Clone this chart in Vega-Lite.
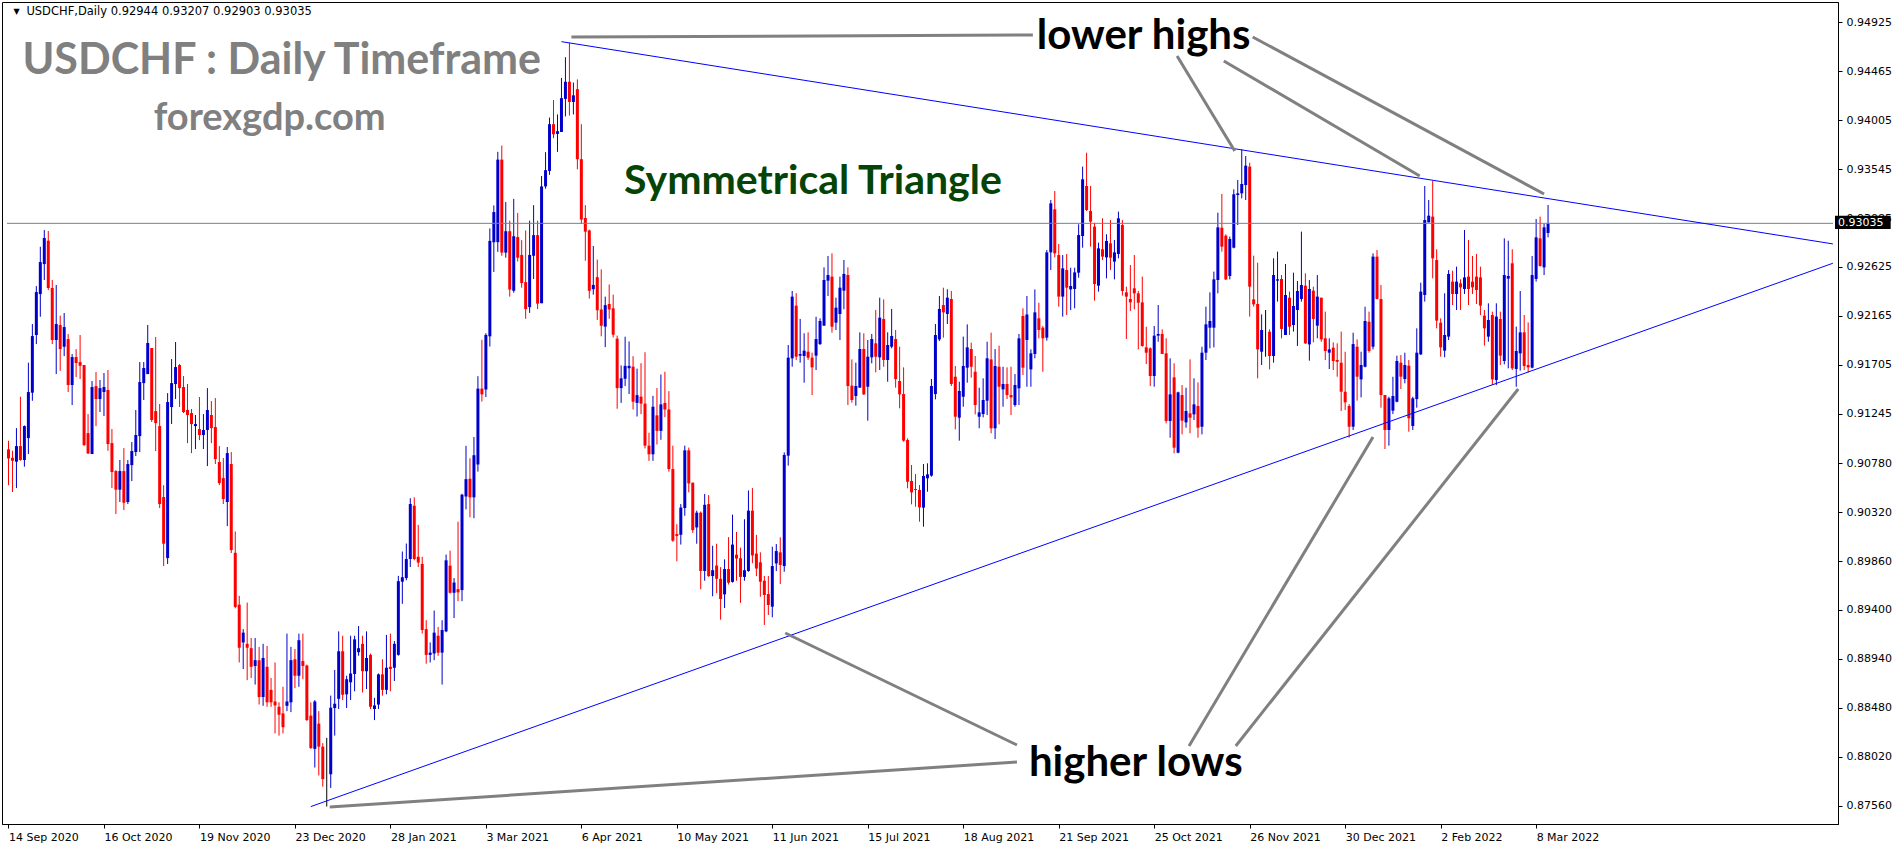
{
  "$schema": "https://vega.github.io/schema/vega-lite/v6.json",
  "width": 1836,
  "height": 822,
  "autosize": {"type": "none"},
  "padding": {"left": 2, "top": 2, "right": 64, "bottom": 24},
  "background": "white",
  "view": {"stroke": "black", "strokeWidth": 1},
  "config": {"font": "DejaVu Sans"},
  "datasets": {
    "candles": [
      {"i":0,"o":0.90910,"h":0.90991,"l":0.90574,"c":0.90825},
      {"i":1,"o":0.90831,"h":0.90897,"l":0.90509,"c":0.90803},
      {"i":2,"o":0.90794,"h":0.91110,"l":0.90546,"c":0.90941},
      {"i":3,"o":0.90941,"h":0.91405,"l":0.90803,"c":0.90810},
      {"i":4,"o":0.90810,"h":0.91135,"l":0.90747,"c":0.91129},
      {"i":5,"o":0.91016,"h":0.91725,"l":0.90866,"c":0.91449},
      {"i":6,"o":0.91443,"h":0.92088,"l":0.91367,"c":0.91975},
      {"i":7,"o":0.91985,"h":0.92445,"l":0.91900,"c":0.92389},
      {"i":8,"o":0.92370,"h":0.92815,"l":0.92157,"c":0.92671},
      {"i":9,"o":0.92652,"h":0.92972,"l":0.92502,"c":0.92897},
      {"i":10,"o":0.92872,"h":0.92963,"l":0.92408,"c":0.92427},
      {"i":11,"o":0.92427,"h":0.92502,"l":0.91900,"c":0.91938},
      {"i":12,"o":0.91938,"h":0.92455,"l":0.91618,"c":0.92088},
      {"i":13,"o":0.92079,"h":0.92167,"l":0.91649,"c":0.91853},
      {"i":14,"o":0.91875,"h":0.92192,"l":0.91787,"c":0.92060},
      {"i":15,"o":0.91947,"h":0.91994,"l":0.91449,"c":0.91515},
      {"i":16,"o":0.91515,"h":0.91806,"l":0.91327,"c":0.91778},
      {"i":17,"o":0.91778,"h":0.91853,"l":0.91590,"c":0.91722},
      {"i":18,"o":0.91731,"h":0.91985,"l":0.91571,"c":0.91696},
      {"i":19,"o":0.91703,"h":0.91703,"l":0.90941,"c":0.90951},
      {"i":20,"o":0.91063,"h":0.91242,"l":0.90866,"c":0.90872},
      {"i":21,"o":0.90866,"h":0.91552,"l":0.90866,"c":0.91496},
      {"i":22,"o":0.91505,"h":0.91637,"l":0.91129,"c":0.91383},
      {"i":23,"o":0.91383,"h":0.91562,"l":0.91261,"c":0.91486},
      {"i":24,"o":0.91449,"h":0.91628,"l":0.91223,"c":0.91496},
      {"i":25,"o":0.91468,"h":0.91656,"l":0.90897,"c":0.90960},
      {"i":26,"o":0.90969,"h":0.91101,"l":0.90546,"c":0.90697},
      {"i":27,"o":0.90706,"h":0.90715,"l":0.90302,"c":0.90531},
      {"i":28,"o":0.90531,"h":0.90810,"l":0.90415,"c":0.90706},
      {"i":29,"o":0.90706,"h":0.90922,"l":0.90339,"c":0.90408},
      {"i":30,"o":0.90415,"h":0.90810,"l":0.90396,"c":0.90772},
      {"i":31,"o":0.90762,"h":0.90979,"l":0.90612,"c":0.90894},
      {"i":32,"o":0.90885,"h":0.91280,"l":0.90847,"c":0.91045},
      {"i":33,"o":0.91035,"h":0.91731,"l":0.90885,"c":0.91543},
      {"i":34,"o":0.91533,"h":0.91731,"l":0.91374,"c":0.91675},
      {"i":35,"o":0.91618,"h":0.92079,"l":0.91618,"c":0.91910},
      {"i":36,"o":0.91863,"h":0.91863,"l":0.91167,"c":0.91186},
      {"i":37,"o":0.91270,"h":0.91966,"l":0.90894,"c":0.91157},
      {"i":38,"o":0.91129,"h":0.91336,"l":0.90358,"c":0.90396},
      {"i":39,"o":0.90462,"h":0.90574,"l":0.89813,"c":0.90023},
      {"i":40,"o":0.89888,"h":0.91439,"l":0.89832,"c":0.91355},
      {"i":41,"o":0.91308,"h":0.91759,"l":0.91148,"c":0.91533},
      {"i":42,"o":0.91524,"h":0.91919,"l":0.91383,"c":0.91684},
      {"i":43,"o":0.91703,"h":0.91712,"l":0.91308,"c":0.91486},
      {"i":44,"o":0.91496,"h":0.91599,"l":0.91251,"c":0.91261},
      {"i":45,"o":0.91280,"h":0.91524,"l":0.90969,"c":0.91233},
      {"i":46,"o":0.91251,"h":0.91289,"l":0.90875,"c":0.91148},
      {"i":47,"o":0.91129,"h":0.91233,"l":0.90913,"c":0.91148},
      {"i":48,"o":0.91101,"h":0.91402,"l":0.90997,"c":0.91045},
      {"i":49,"o":0.91045,"h":0.91242,"l":0.90913,"c":0.91092},
      {"i":50,"o":0.91092,"h":0.91486,"l":0.90753,"c":0.91280},
      {"i":51,"o":0.91233,"h":0.91364,"l":0.90969,"c":0.91110},
      {"i":52,"o":0.91120,"h":0.91392,"l":0.90772,"c":0.90819},
      {"i":53,"o":0.90791,"h":0.90941,"l":0.90574,"c":0.90593},
      {"i":54,"o":0.90640,"h":0.90828,"l":0.90396,"c":0.90443},
      {"i":55,"o":0.90415,"h":0.90932,"l":0.90189,"c":0.90875},
      {"i":56,"o":0.90772,"h":0.90885,"l":0.89935,"c":0.89963},
      {"i":57,"o":0.89938,"h":0.90138,"l":0.89416,"c":0.89429},
      {"i":58,"o":0.89450,"h":0.89533,"l":0.88907,"c":0.89045},
      {"i":59,"o":0.89095,"h":0.89220,"l":0.88845,"c":0.89187},
      {"i":60,"o":0.89082,"h":0.89470,"l":0.88740,"c":0.89045},
      {"i":61,"o":0.89041,"h":0.89137,"l":0.88761,"c":0.88866},
      {"i":62,"o":0.88874,"h":0.89137,"l":0.88699,"c":0.88928},
      {"i":63,"o":0.88928,"h":0.89053,"l":0.88511,"c":0.88582},
      {"i":64,"o":0.88582,"h":0.89082,"l":0.88499,"c":0.88949},
      {"i":65,"o":0.88866,"h":0.89062,"l":0.88490,"c":0.88532},
      {"i":66,"o":0.88649,"h":0.88761,"l":0.88490,"c":0.88532},
      {"i":67,"o":0.88540,"h":0.88907,"l":0.88240,"c":0.88503},
      {"i":68,"o":0.88490,"h":0.88532,"l":0.88219,"c":0.88415},
      {"i":69,"o":0.88428,"h":0.88678,"l":0.88240,"c":0.88298},
      {"i":70,"o":0.88499,"h":0.89178,"l":0.88449,"c":0.88540},
      {"i":71,"o":0.88532,"h":0.89053,"l":0.88440,"c":0.88928},
      {"i":72,"o":0.88937,"h":0.89033,"l":0.88665,"c":0.88782},
      {"i":73,"o":0.88782,"h":0.89178,"l":0.88678,"c":0.89116},
      {"i":74,"o":0.88920,"h":0.89178,"l":0.88749,"c":0.88874},
      {"i":75,"o":0.88878,"h":0.88887,"l":0.88357,"c":0.88365},
      {"i":76,"o":0.88407,"h":0.88532,"l":0.88094,"c":0.88102},
      {"i":77,"o":0.88094,"h":0.88553,"l":0.87919,"c":0.88540},
      {"i":78,"o":0.88332,"h":0.88449,"l":0.87844,"c":0.88115},
      {"i":79,"o":0.88115,"h":0.88148,"l":0.87739,"c":0.87810},
      {"i":80,"o":0.87815,"h":0.88198,"l":0.87552,"c":0.87815},
      {"i":81,"o":0.87856,"h":0.88595,"l":0.87727,"c":0.88482},
      {"i":82,"o":0.88478,"h":0.88836,"l":0.88219,"c":0.88519},
      {"i":83,"o":0.88565,"h":0.89199,"l":0.88469,"c":0.89012},
      {"i":84,"o":0.89012,"h":0.89158,"l":0.88553,"c":0.88603},
      {"i":85,"o":0.88607,"h":0.88782,"l":0.88478,"c":0.88749},
      {"i":86,"o":0.88720,"h":0.89158,"l":0.88553,"c":0.88803},
      {"i":87,"o":0.88799,"h":0.89158,"l":0.88636,"c":0.89124},
      {"i":88,"o":0.89003,"h":0.89249,"l":0.88970,"c":0.89041},
      {"i":89,"o":0.89082,"h":0.89158,"l":0.88624,"c":0.88824},
      {"i":90,"o":0.88824,"h":0.89199,"l":0.88657,"c":0.88949},
      {"i":91,"o":0.88978,"h":0.88991,"l":0.88469,"c":0.88490},
      {"i":92,"o":0.88469,"h":0.88574,"l":0.88365,"c":0.88503},
      {"i":93,"o":0.88511,"h":0.88803,"l":0.88469,"c":0.88795},
      {"i":94,"o":0.88795,"h":0.88937,"l":0.88595,"c":0.88649},
      {"i":95,"o":0.88649,"h":0.89166,"l":0.88607,"c":0.88857},
      {"i":96,"o":0.88866,"h":0.89178,"l":0.88636,"c":0.88845},
      {"i":97,"o":0.88857,"h":0.89108,"l":0.88732,"c":0.89082},
      {"i":98,"o":0.88978,"h":0.89721,"l":0.88970,"c":0.89671},
      {"i":99,"o":0.89666,"h":0.89950,"l":0.89458,"c":0.89708},
      {"i":100,"o":0.89700,"h":0.90025,"l":0.89679,"c":0.89879},
      {"i":101,"o":0.89879,"h":0.90451,"l":0.89804,"c":0.90396},
      {"i":102,"o":0.90380,"h":0.90459,"l":0.89867,"c":0.89879},
      {"i":103,"o":0.89900,"h":0.90200,"l":0.89804,"c":0.89846},
      {"i":104,"o":0.89833,"h":0.89900,"l":0.89178,"c":0.89212},
      {"i":105,"o":0.89220,"h":0.89304,"l":0.88895,"c":0.88978},
      {"i":106,"o":0.88978,"h":0.89095,"l":0.88907,"c":0.88999},
      {"i":107,"o":0.88991,"h":0.89395,"l":0.88928,"c":0.89187},
      {"i":108,"o":0.89158,"h":0.89241,"l":0.88970,"c":0.88999},
      {"i":109,"o":0.88999,"h":0.89304,"l":0.88699,"c":0.89212},
      {"i":110,"o":0.89199,"h":0.89921,"l":0.89191,"c":0.89867},
      {"i":111,"o":0.89817,"h":0.89958,"l":0.89554,"c":0.89562},
      {"i":112,"o":0.89562,"h":0.89700,"l":0.89324,"c":0.89658},
      {"i":113,"o":0.89596,"h":0.90230,"l":0.89483,"c":0.89566},
      {"i":114,"o":0.89587,"h":0.90492,"l":0.89483,"c":0.90484},
      {"i":115,"o":0.90467,"h":0.90943,"l":0.90346,"c":0.90630},
      {"i":116,"o":0.90634,"h":0.90826,"l":0.90271,"c":0.90459},
      {"i":117,"o":0.90459,"h":0.91026,"l":0.90263,"c":0.90855},
      {"i":118,"o":0.90768,"h":0.91598,"l":0.90701,"c":0.91481},
      {"i":119,"o":0.91481,"h":0.91940,"l":0.91360,"c":0.91427},
      {"i":120,"o":0.91473,"h":0.92002,"l":0.91402,"c":0.91986},
      {"i":121,"o":0.91973,"h":0.92987,"l":0.91877,"c":0.92870},
      {"i":122,"o":0.92857,"h":0.93203,"l":0.92578,"c":0.93141},
      {"i":123,"o":0.92858,"h":0.93707,"l":0.92767,"c":0.93634},
      {"i":124,"o":0.93634,"h":0.93766,"l":0.92730,"c":0.92760},
      {"i":125,"o":0.92760,"h":0.93235,"l":0.92712,"c":0.92961},
      {"i":126,"o":0.92961,"h":0.93060,"l":0.92346,"c":0.92412},
      {"i":127,"o":0.92401,"h":0.93265,"l":0.92383,"c":0.92913},
      {"i":128,"o":0.92906,"h":0.93133,"l":0.92676,"c":0.92712},
      {"i":129,"o":0.92738,"h":0.92877,"l":0.92430,"c":0.92474},
      {"i":130,"o":0.92482,"h":0.92968,"l":0.92138,"c":0.92229},
      {"i":131,"o":0.92247,"h":0.93060,"l":0.92193,"c":0.92738},
      {"i":132,"o":0.92730,"h":0.93206,"l":0.92511,"c":0.92924},
      {"i":133,"o":0.92924,"h":0.93060,"l":0.92229,"c":0.92280},
      {"i":134,"o":0.92284,"h":0.93480,"l":0.92284,"c":0.93382},
      {"i":135,"o":0.93382,"h":0.93704,"l":0.93360,"c":0.93535},
      {"i":136,"o":0.93528,"h":0.94029,"l":0.93491,"c":0.93967},
      {"i":137,"o":0.93967,"h":0.94194,"l":0.93835,"c":0.93872},
      {"i":138,"o":0.93876,"h":0.94059,"l":0.93707,"c":0.93901},
      {"i":139,"o":0.93894,"h":0.94402,"l":0.93894,"c":0.94212},
      {"i":140,"o":0.94205,"h":0.94597,"l":0.94040,"c":0.94366},
      {"i":141,"o":0.94366,"h":0.94732,"l":0.94048,"c":0.94176},
      {"i":142,"o":0.94176,"h":0.94359,"l":0.94059,"c":0.94238},
      {"i":143,"o":0.94296,"h":0.94388,"l":0.93543,"c":0.93638},
      {"i":144,"o":0.93638,"h":0.93967,"l":0.93030,"c":0.93071},
      {"i":145,"o":0.93085,"h":0.93206,"l":0.92683,"c":0.92957},
      {"i":146,"o":0.92968,"h":0.92976,"l":0.92328,"c":0.92401},
      {"i":147,"o":0.92416,"h":0.92822,"l":0.92365,"c":0.92456},
      {"i":148,"o":0.92529,"h":0.92694,"l":0.92127,"c":0.92218},
      {"i":149,"o":0.92225,"h":0.92602,"l":0.91973,"c":0.92072},
      {"i":150,"o":0.92064,"h":0.92346,"l":0.91871,"c":0.92266},
      {"i":151,"o":0.92277,"h":0.92460,"l":0.92138,"c":0.92225},
      {"i":152,"o":0.92236,"h":0.92365,"l":0.91962,"c":0.91988},
      {"i":153,"o":0.91951,"h":0.91980,"l":0.91292,"c":0.91486},
      {"i":154,"o":0.91486,"h":0.91699,"l":0.91347,"c":0.91578},
      {"i":155,"o":0.91574,"h":0.91969,"l":0.91505,"c":0.91695},
      {"i":156,"o":0.91673,"h":0.91925,"l":0.91431,"c":0.91695},
      {"i":157,"o":0.91688,"h":0.91786,"l":0.91285,"c":0.91358},
      {"i":158,"o":0.91347,"h":0.91669,"l":0.91219,"c":0.91420},
      {"i":159,"o":0.91406,"h":0.91720,"l":0.91241,"c":0.91340},
      {"i":160,"o":0.91340,"h":0.91823,"l":0.90919,"c":0.90945},
      {"i":161,"o":0.90945,"h":0.91066,"l":0.90802,"c":0.90864},
      {"i":162,"o":0.90864,"h":0.91413,"l":0.90802,"c":0.91311},
      {"i":163,"o":0.91230,"h":0.91486,"l":0.90956,"c":0.91084},
      {"i":164,"o":0.91084,"h":0.91614,"l":0.91000,"c":0.91333},
      {"i":165,"o":0.91347,"h":0.91640,"l":0.91212,"c":0.91285},
      {"i":166,"o":0.91285,"h":0.91457,"l":0.90700,"c":0.90725},
      {"i":167,"o":0.90725,"h":0.90945,"l":0.90041,"c":0.90052},
      {"i":168,"o":0.90114,"h":0.90206,"l":0.89858,"c":0.90096},
      {"i":169,"o":0.90107,"h":0.90396,"l":0.90015,"c":0.90363},
      {"i":170,"o":0.90359,"h":0.90945,"l":0.90286,"c":0.90901},
      {"i":171,"o":0.90901,"h":0.90927,"l":0.90506,"c":0.90590},
      {"i":172,"o":0.90597,"h":0.90597,"l":0.90125,"c":0.90151},
      {"i":173,"o":0.90176,"h":0.90334,"l":0.90023,"c":0.90315},
      {"i":174,"o":0.90315,"h":0.90326,"l":0.89595,"c":0.89767},
      {"i":175,"o":0.89767,"h":0.90491,"l":0.89675,"c":0.90389},
      {"i":176,"o":0.90396,"h":0.90480,"l":0.89711,"c":0.89719},
      {"i":177,"o":0.89719,"h":0.90004,"l":0.89529,"c":0.89774},
      {"i":178,"o":0.89818,"h":0.90023,"l":0.89558,"c":0.89693},
      {"i":179,"o":0.89693,"h":0.89803,"l":0.89309,"c":0.89503},
      {"i":180,"o":0.89547,"h":0.89876,"l":0.89419,"c":0.89785},
      {"i":181,"o":0.89785,"h":0.90085,"l":0.89639,"c":0.89657},
      {"i":182,"o":0.89664,"h":0.90297,"l":0.89657,"c":0.90015},
      {"i":183,"o":0.89920,"h":0.90133,"l":0.89675,"c":0.89884},
      {"i":184,"o":0.89887,"h":0.89986,"l":0.89467,"c":0.89711},
      {"i":185,"o":0.89711,"h":0.90253,"l":0.89675,"c":0.89774},
      {"i":186,"o":0.89767,"h":0.90524,"l":0.89759,"c":0.90334},
      {"i":187,"o":0.90334,"h":0.90546,"l":0.89840,"c":0.89913},
      {"i":188,"o":0.89930,"h":0.90106,"l":0.89718,"c":0.89790},
      {"i":189,"o":0.89848,"h":0.89942,"l":0.89525,"c":0.89666},
      {"i":190,"o":0.89675,"h":0.89719,"l":0.89259,"c":0.89541},
      {"i":191,"o":0.89550,"h":0.89719,"l":0.89353,"c":0.89447},
      {"i":192,"o":0.89431,"h":0.89995,"l":0.89331,"c":0.89813},
      {"i":193,"o":0.89838,"h":0.90020,"l":0.89766,"c":0.89954},
      {"i":194,"o":0.89942,"h":0.90083,"l":0.89644,"c":0.89823},
      {"i":195,"o":0.89813,"h":0.90882,"l":0.89760,"c":0.90857},
      {"i":196,"o":0.90851,"h":0.91891,"l":0.90757,"c":0.91772},
      {"i":197,"o":0.91766,"h":0.92399,"l":0.91687,"c":0.92346},
      {"i":198,"o":0.92261,"h":0.92377,"l":0.91750,"c":0.91781},
      {"i":199,"o":0.91791,"h":0.92136,"l":0.91725,"c":0.91806},
      {"i":200,"o":0.91788,"h":0.92001,"l":0.91537,"c":0.91838},
      {"i":201,"o":0.91828,"h":0.92010,"l":0.91750,"c":0.91772},
      {"i":202,"o":0.91772,"h":0.91819,"l":0.91421,"c":0.91681},
      {"i":203,"o":0.91791,"h":0.92157,"l":0.91656,"c":0.91947},
      {"i":204,"o":0.91900,"h":0.92142,"l":0.91891,"c":0.92117},
      {"i":205,"o":0.92073,"h":0.92621,"l":0.92073,"c":0.92502},
      {"i":206,"o":0.92496,"h":0.92728,"l":0.92352,"c":0.92549},
      {"i":207,"o":0.92534,"h":0.92753,"l":0.92007,"c":0.92063},
      {"i":208,"o":0.92101,"h":0.92336,"l":0.92032,"c":0.92242},
      {"i":209,"o":0.92183,"h":0.92534,"l":0.91938,"c":0.92430},
      {"i":210,"o":0.92402,"h":0.92690,"l":0.92227,"c":0.92559},
      {"i":211,"o":0.92549,"h":0.92621,"l":0.91327,"c":0.91506},
      {"i":212,"o":0.91509,"h":0.91756,"l":0.91349,"c":0.91374},
      {"i":213,"o":0.91412,"h":0.91725,"l":0.91321,"c":0.91506},
      {"i":214,"o":0.91490,"h":0.92010,"l":0.91490,"c":0.91854},
      {"i":215,"o":0.91854,"h":0.92001,"l":0.91421,"c":0.91427},
      {"i":216,"o":0.91499,"h":0.91938,"l":0.91180,"c":0.91781},
      {"i":217,"o":0.91775,"h":0.91995,"l":0.91719,"c":0.91947},
      {"i":218,"o":0.91907,"h":0.92220,"l":0.91634,"c":0.91781},
      {"i":219,"o":0.91775,"h":0.92336,"l":0.91656,"c":0.92148},
      {"i":220,"o":0.92136,"h":0.92320,"l":0.91687,"c":0.91750},
      {"i":221,"o":0.91750,"h":0.92010,"l":0.91546,"c":0.91891},
      {"i":222,"o":0.91875,"h":0.92230,"l":0.91860,"c":0.91976},
      {"i":223,"o":0.91947,"h":0.92032,"l":0.91490,"c":0.91571},
      {"i":224,"o":0.91553,"h":0.91875,"l":0.91296,"c":0.91427},
      {"i":225,"o":0.91430,"h":0.91681,"l":0.90982,"c":0.90992},
      {"i":226,"o":0.90998,"h":0.91014,"l":0.90544,"c":0.90606},
      {"i":227,"o":0.90613,"h":0.90763,"l":0.90393,"c":0.90506},
      {"i":228,"o":0.90537,"h":0.90678,"l":0.90371,"c":0.90528},
      {"i":229,"o":0.90528,"h":0.90575,"l":0.90230,"c":0.90365},
      {"i":230,"o":0.90362,"h":0.90772,"l":0.90183,"c":0.90660},
      {"i":231,"o":0.90638,"h":0.90779,"l":0.90512,"c":0.90675},
      {"i":232,"o":0.90663,"h":0.91572,"l":0.90653,"c":0.91506},
      {"i":233,"o":0.91430,"h":0.92089,"l":0.91380,"c":0.91985},
      {"i":234,"o":0.91944,"h":0.92352,"l":0.91929,"c":0.92230},
      {"i":235,"o":0.92267,"h":0.92430,"l":0.91960,"c":0.92198},
      {"i":236,"o":0.92183,"h":0.92415,"l":0.92089,"c":0.92336},
      {"i":237,"o":0.92324,"h":0.92399,"l":0.91506,"c":0.91525},
      {"i":238,"o":0.91593,"h":0.91694,"l":0.91098,"c":0.91217},
      {"i":239,"o":0.91208,"h":0.91546,"l":0.90992,"c":0.91459},
      {"i":240,"o":0.91405,"h":0.91970,"l":0.91311,"c":0.91694},
      {"i":241,"o":0.91678,"h":0.92085,"l":0.91537,"c":0.91869},
      {"i":242,"o":0.91854,"h":0.91913,"l":0.91584,"c":0.91687},
      {"i":243,"o":0.91640,"h":0.91788,"l":0.91239,"c":0.91327},
      {"i":244,"o":0.91217,"h":0.91490,"l":0.91108,"c":0.91258},
      {"i":245,"o":0.91242,"h":0.91578,"l":0.91211,"c":0.91374},
      {"i":246,"o":0.91368,"h":0.91922,"l":0.91233,"c":0.91766},
      {"i":247,"o":0.91756,"h":0.92007,"l":0.91061,"c":0.91108},
      {"i":248,"o":0.91108,"h":0.91853,"l":0.91007,"c":0.91694},
      {"i":249,"o":0.91687,"h":0.91885,"l":0.91145,"c":0.91499},
      {"i":250,"o":0.91474,"h":0.91687,"l":0.91311,"c":0.91525},
      {"i":251,"o":0.91525,"h":0.91681,"l":0.91384,"c":0.91421},
      {"i":252,"o":0.91421,"h":0.91687,"l":0.91233,"c":0.91399},
      {"i":253,"o":0.91327,"h":0.91618,"l":0.91311,"c":0.91515},
      {"i":254,"o":0.91484,"h":0.91995,"l":0.91327,"c":0.91954},
      {"i":255,"o":0.92164,"h":0.92236,"l":0.91609,"c":0.91678},
      {"i":256,"o":0.91938,"h":0.92352,"l":0.91499,"c":0.92179},
      {"i":257,"o":0.91662,"h":0.91850,"l":0.91499,"c":0.91813},
      {"i":258,"o":0.91807,"h":0.92414,"l":0.91766,"c":0.92198},
      {"i":259,"o":0.92142,"h":0.92289,"l":0.91954,"c":0.92032},
      {"i":260,"o":0.92054,"h":0.92070,"l":0.91640,"c":0.91954},
      {"i":261,"o":0.91960,"h":0.92784,"l":0.91932,"c":0.92762},
      {"i":262,"o":0.92762,"h":0.93254,"l":0.92596,"c":0.93223},
      {"i":263,"o":0.93167,"h":0.93339,"l":0.92715,"c":0.92753},
      {"i":264,"o":0.92737,"h":0.92841,"l":0.92252,"c":0.92346},
      {"i":265,"o":0.92346,"h":0.92737,"l":0.92158,"c":0.92612},
      {"i":266,"o":0.92596,"h":0.92747,"l":0.92173,"c":0.92430},
      {"i":267,"o":0.92414,"h":0.92618,"l":0.92220,"c":0.92446},
      {"i":268,"o":0.92418,"h":0.92618,"l":0.92236,"c":0.92574},
      {"i":269,"o":0.92571,"h":0.93026,"l":0.92524,"c":0.92925},
      {"i":270,"o":0.92916,"h":0.93568,"l":0.92806,"c":0.93449},
      {"i":271,"o":0.93386,"h":0.93699,"l":0.93151,"c":0.93160},
      {"i":272,"o":0.93151,"h":0.93386,"l":0.92816,"c":0.93051},
      {"i":273,"o":0.93004,"h":0.93041,"l":0.92308,"c":0.92465},
      {"i":274,"o":0.92449,"h":0.92853,"l":0.92393,"c":0.92800},
      {"i":275,"o":0.92791,"h":0.93082,"l":0.92690,"c":0.92722},
      {"i":276,"o":0.92715,"h":0.92932,"l":0.92518,"c":0.92869},
      {"i":277,"o":0.92847,"h":0.93066,"l":0.92596,"c":0.92712},
      {"i":278,"o":0.92675,"h":0.92878,"l":0.92508,"c":0.92762},
      {"i":279,"o":0.92747,"h":0.93145,"l":0.92706,"c":0.93082},
      {"i":280,"o":0.93019,"h":0.93066,"l":0.92355,"c":0.92399},
      {"i":281,"o":0.92386,"h":0.92440,"l":0.91948,"c":0.92346},
      {"i":282,"o":0.92324,"h":0.92643,"l":0.92211,"c":0.92292},
      {"i":283,"o":0.92424,"h":0.92737,"l":0.92226,"c":0.92377},
      {"i":284,"o":0.92377,"h":0.92399,"l":0.91850,"c":0.92289},
      {"i":285,"o":0.92292,"h":0.92534,"l":0.91875,"c":0.91882},
      {"i":286,"o":0.91869,"h":0.92063,"l":0.91712,"c":0.91819},
      {"i":287,"o":0.91860,"h":0.91869,"l":0.91506,"c":0.91600},
      {"i":288,"o":0.91600,"h":0.92070,"l":0.91499,"c":0.91979},
      {"i":289,"o":0.91979,"h":0.92267,"l":0.91922,"c":0.91995},
      {"i":290,"o":0.91995,"h":0.92038,"l":0.91807,"c":0.91807},
      {"i":291,"o":0.91813,"h":0.91954,"l":0.91155,"c":0.91177},
      {"i":292,"o":0.91177,"h":0.91766,"l":0.91020,"c":0.91427},
      {"i":293,"o":0.91587,"h":0.91719,"l":0.90873,"c":0.90926},
      {"i":294,"o":0.90879,"h":0.91452,"l":0.90873,"c":0.91446},
      {"i":295,"o":0.91421,"h":0.91515,"l":0.91051,"c":0.91180},
      {"i":296,"o":0.91164,"h":0.91490,"l":0.91114,"c":0.91271},
      {"i":297,"o":0.91249,"h":0.91756,"l":0.91061,"c":0.91208},
      {"i":298,"o":0.91239,"h":0.91578,"l":0.91186,"c":0.91333},
      {"i":299,"o":0.91318,"h":0.91540,"l":0.91020,"c":0.91114},
      {"i":300,"o":0.91123,"h":0.91875,"l":0.91051,"c":0.91819},
      {"i":301,"o":0.91819,"h":0.92252,"l":0.91750,"c":0.92085},
      {"i":302,"o":0.92054,"h":0.92386,"l":0.91860,"c":0.92117},
      {"i":303,"o":0.92054,"h":0.92581,"l":0.91869,"c":0.92508},
      {"i":304,"o":0.92502,"h":0.93135,"l":0.92377,"c":0.92997},
      {"i":305,"o":0.92994,"h":0.93311,"l":0.92769,"c":0.92816},
      {"i":306,"o":0.92919,"h":0.92932,"l":0.92502,"c":0.92508},
      {"i":307,"o":0.92540,"h":0.92910,"l":0.92508,"c":0.92888},
      {"i":308,"o":0.92806,"h":0.93355,"l":0.92800,"c":0.93308},
      {"i":309,"o":0.93301,"h":0.93442,"l":0.93019,"c":0.93317},
      {"i":310,"o":0.93317,"h":0.93731,"l":0.93270,"c":0.93405},
      {"i":311,"o":0.93395,"h":0.93668,"l":0.93254,"c":0.93577},
      {"i":312,"o":0.93568,"h":0.93605,"l":0.92158,"c":0.92440},
      {"i":313,"o":0.92320,"h":0.92731,"l":0.92252,"c":0.92273},
      {"i":314,"o":0.92277,"h":0.92665,"l":0.91578,"c":0.91850},
      {"i":315,"o":0.91828,"h":0.92179,"l":0.91703,"c":0.92032},
      {"i":316,"o":0.92023,"h":0.92220,"l":0.91781,"c":0.92023},
      {"i":317,"o":0.92016,"h":0.92038,"l":0.91662,"c":0.91788},
      {"i":318,"o":0.91788,"h":0.92706,"l":0.91725,"c":0.92549},
      {"i":319,"o":0.92496,"h":0.92769,"l":0.92299,"c":0.92509},
      {"i":320,"o":0.92512,"h":0.92549,"l":0.91954,"c":0.92042},
      {"i":321,"o":0.91985,"h":0.92653,"l":0.91985,"c":0.92361},
      {"i":322,"o":0.92336,"h":0.92393,"l":0.91985,"c":0.92064},
      {"i":323,"o":0.92079,"h":0.92571,"l":0.92017,"c":0.92258},
      {"i":324,"o":0.92220,"h":0.92493,"l":0.91882,"c":0.92399},
      {"i":325,"o":0.92324,"h":0.92957,"l":0.92299,"c":0.92455},
      {"i":326,"o":0.92449,"h":0.92565,"l":0.91901,"c":0.91907},
      {"i":327,"o":0.91897,"h":0.92502,"l":0.91744,"c":0.92418},
      {"i":328,"o":0.92402,"h":0.92440,"l":0.91916,"c":0.92136},
      {"i":329,"o":0.92073,"h":0.92549,"l":0.91954,"c":0.92346},
      {"i":330,"o":0.92336,"h":0.92336,"l":0.91922,"c":0.91944},
      {"i":331,"o":0.91954,"h":0.92205,"l":0.91750,"c":0.91835},
      {"i":332,"o":0.91819,"h":0.91954,"l":0.91665,"c":0.91850},
      {"i":333,"o":0.91866,"h":0.91916,"l":0.91656,"c":0.91741},
      {"i":334,"o":0.91750,"h":0.91907,"l":0.91593,"c":0.91734},
      {"i":335,"o":0.91725,"h":0.92017,"l":0.91271,"c":0.91452},
      {"i":336,"o":0.91452,"h":0.91828,"l":0.91280,"c":0.91352},
      {"i":337,"o":0.91318,"h":0.91336,"l":0.91020,"c":0.91123},
      {"i":338,"o":0.91123,"h":0.92007,"l":0.91092,"c":0.91900},
      {"i":339,"o":0.91875,"h":0.91944,"l":0.91368,"c":0.91593},
      {"i":340,"o":0.91568,"h":0.91828,"l":0.91399,"c":0.91703},
      {"i":341,"o":0.91687,"h":0.92251,"l":0.91681,"c":0.92117},
      {"i":342,"o":0.92110,"h":0.92205,"l":0.91819,"c":0.91835},
      {"i":343,"o":0.91875,"h":0.92753,"l":0.91850,"c":0.92722},
      {"i":344,"o":0.92722,"h":0.92784,"l":0.92320,"c":0.92324},
      {"i":345,"o":0.92324,"h":0.92455,"l":0.91302,"c":0.91421},
      {"i":346,"o":0.91421,"h":0.91421,"l":0.90913,"c":0.91092},
      {"i":347,"o":0.91092,"h":0.91405,"l":0.90945,"c":0.91390},
      {"i":348,"o":0.91274,"h":0.91593,"l":0.91242,"c":0.91412},
      {"i":349,"o":0.91358,"h":0.91791,"l":0.91352,"c":0.91741},
      {"i":350,"o":0.91725,"h":0.91797,"l":0.91477,"c":0.91593},
      {"i":351,"o":0.91571,"h":0.91819,"l":0.91531,"c":0.91703},
      {"i":352,"o":0.91697,"h":0.91750,"l":0.91076,"c":0.91202},
      {"i":353,"o":0.91130,"h":0.91405,"l":0.91092,"c":0.91390},
      {"i":354,"o":0.91383,"h":0.92048,"l":0.91302,"c":0.91819},
      {"i":355,"o":0.91803,"h":0.92477,"l":0.91797,"c":0.92393},
      {"i":356,"o":0.92361,"h":0.93386,"l":0.92299,"c":0.93066},
      {"i":357,"o":0.93044,"h":0.93254,"l":0.93044,"c":0.93107},
      {"i":358,"o":0.93098,"h":0.93436,"l":0.92518,"c":0.92706},
      {"i":359,"o":0.92690,"h":0.92791,"l":0.92048,"c":0.92120},
      {"i":360,"o":0.92101,"h":0.92142,"l":0.91781,"c":0.91869},
      {"i":361,"o":0.91838,"h":0.92377,"l":0.91775,"c":0.91985},
      {"i":362,"o":0.91970,"h":0.92596,"l":0.91938,"c":0.92559},
      {"i":363,"o":0.92487,"h":0.92590,"l":0.92267,"c":0.92371},
      {"i":364,"o":0.92371,"h":0.92628,"l":0.92220,"c":0.92487},
      {"i":365,"o":0.92471,"h":0.92509,"l":0.92220,"c":0.92433},
      {"i":366,"o":0.92418,"h":0.92972,"l":0.92371,"c":0.92527},
      {"i":367,"o":0.92534,"h":0.92878,"l":0.92267,"c":0.92418},
      {"i":368,"o":0.92487,"h":0.92728,"l":0.92371,"c":0.92433},
      {"i":369,"o":0.92534,"h":0.92747,"l":0.92277,"c":0.92408},
      {"i":370,"o":0.92527,"h":0.92628,"l":0.92173,"c":0.92261},
      {"i":371,"o":0.92167,"h":0.92220,"l":0.91885,"c":0.92048},
      {"i":372,"o":0.91970,"h":0.92283,"l":0.91922,"c":0.92126},
      {"i":373,"o":0.92173,"h":0.92205,"l":0.91515,"c":0.91568},
      {"i":374,"o":0.91562,"h":0.92283,"l":0.91515,"c":0.92158},
      {"i":375,"o":0.92136,"h":0.92205,"l":0.91703,"c":0.91791},
      {"i":376,"o":0.91741,"h":0.92894,"l":0.91709,"c":0.92549},
      {"i":377,"o":0.92515,"h":0.92872,"l":0.91672,"c":0.92540},
      {"i":378,"o":0.92659,"h":0.92791,"l":0.91656,"c":0.91672},
      {"i":379,"o":0.91666,"h":0.92064,"l":0.91499,"c":0.91835},
      {"i":380,"o":0.91813,"h":0.92399,"l":0.91650,"c":0.92010},
      {"i":381,"o":0.92010,"h":0.92173,"l":0.91656,"c":0.91694},
      {"i":382,"o":0.91703,"h":0.92104,"l":0.91634,"c":0.91681},
      {"i":383,"o":0.91678,"h":0.92728,"l":0.91672,"c":0.92549},
      {"i":384,"o":0.92512,"h":0.93076,"l":0.92487,"c":0.92903},
      {"i":385,"o":0.92894,"h":0.93098,"l":0.92628,"c":0.92634},
      {"i":386,"o":0.92621,"h":0.93029,"l":0.92549,"c":0.92997},
      {"i":387,"o":0.92944,"h":0.93207,"l":0.92903,"c":0.93035}
    ],
    "trend": [
      {"i":139,"p":0.94743,"i2":458.6,"p2":0.928415},
      {"i":76,"p":0.875518,"i2":458.6,"p2":0.926598}
    ],
    "pointers": [
      {"i":141.5,"p":0.947868,"i2":257.5,"p2":0.948056},
      {"i":293.75,"p":0.946082,"i2":308.25,"p2":0.937151},
      {"i":305.5,"p":0.945612,"i2":354.75,"p2":0.9348},
      {"i":312.75,"p":0.947868,"i2":386,"p2":0.933108},
      {"i":253.5,"p":0.87971,"i2":80.75,"p2":0.875479},
      {"i":195.25,"p":0.891837,"i2":253.5,"p2":0.881308},
      {"i":296.75,"p":0.881214,"i2":343,"p2":0.910263},
      {"i":308.5,"p":0.881214,"i2":379.5,"p2":0.914776}
    ],
    "bid": [{"i":-0.375,"p":0.93035,"i2":458.625,"p2":0.93035}],
    "pricebox": [{"i":459.125,"p":0.931068,"i2":473.125,"p2":0.929818}],
    "pricetext": [{"i":459.9,"p":0.93035,"t":"0.93035"}],
    "header": [{"i":4.5,"p":0.950171,"t":"USDCHF,Daily  0.92944 0.93207 0.92903 0.93035"}],
    "headmark": [{"i":1.25,"p":0.950171,"t":"▼"}],
    "title": [{"i":3.5,"p":0.94439,"t":"USDCHF : Daily Timeframe"}],
    "site": [{"i":36.5,"p":0.939125,"t":"forexgdp.com"}],
    "pattern": [{"i":154.75,"p":0.933108,"t":"Symmetrical Triangle"}],
    "notes": [
      {"i":258.5,"p":0.94674,"t":"lower highs"},
      {"i":256.5,"p":0.878394,"t":"higher lows"}
    ]
  },
  "encoding": {
    "x": {"field": "i", "type": "quantitative",
      "scale": {"domain": [-0.375, 458.625], "nice": false, "zero": false},
      "axis": {"orient": "bottom", "title": null, "grid": false,
        "values": [0,24,48,72,96,120,144,168,192,216,240,264,288,312,336,360,384],
        "labelExpr": "['14 Sep 2020','16 Oct 2020','19 Nov 2020','23 Dec 2020','28 Jan 2021','3 Mar 2021','6 Apr 2021','10 May 2021','11 Jun 2021','15 Jul 2021','18 Aug 2021','21 Sep 2021','25 Oct 2021','26 Nov 2021','30 Dec 2021','2 Feb 2022','8 Mar 2022'][round(datum.value/24)]",
        "labelAlign": "left", "labelBaseline": "top", "labelPadding": 3,
        "labelFont": "DejaVu Sans", "labelFontSize": 11, "labelColor": "black",
        "labelOverlap": false, "labelFlush": false, "labelBound": false,
        "tickSize": 4, "tickColor": "black", "domainColor": "black"}}
  },
  "layer": [
    {
      "data": {"name": "candles"},
      "mark": {"type": "rule", "strokeWidth": 1},
      "encoding": {
        "y": {"field": "l", "type": "quantitative",
          "scale": {"domain": [0.873881, 0.951158], "nice": false, "zero": false},
          "axis": {"orient": "right", "title": null, "grid": false,
            "values": [0.8756,0.8802,0.8848,0.8894,0.894,0.8986,0.9032,0.9078,0.91245,0.91705,0.92165,0.92625,0.93085,0.93545,0.94005,0.94465,0.94925],
            "format": ".5f", "labelPadding": 4, "tickSize": 4,
            "labelFont": "DejaVu Sans", "labelFontSize": 11, "labelColor": "black",
            "labelOverlap": false, "labelFlush": false, "labelBound": false,
            "tickColor": "black", "domainColor": "black"}},
        "y2": {"field": "h"},
        "color": {"condition": [
          {"test": "datum.c > datum.o", "value": "#0000cc"},
          {"test": "datum.c < datum.o", "value": "#ff0000"}], "value": "#000000"}
      }
    },
    {
      "data": {"name": "candles"},
      "mark": {"type": "bar", "size": 3},
      "encoding": {
        "y": {"field": "o", "type": "quantitative",
          "scale": {"domain": [0.873881, 0.951158], "nice": false, "zero": false},
          "axis": {"orient": "right", "title": null, "grid": false,
            "values": [0.8756,0.8802,0.8848,0.8894,0.894,0.8986,0.9032,0.9078,0.91245,0.91705,0.92165,0.92625,0.93085,0.93545,0.94005,0.94465,0.94925],
            "format": ".5f", "labelPadding": 4, "tickSize": 4,
            "labelFont": "DejaVu Sans", "labelFontSize": 11, "labelColor": "black",
            "labelOverlap": false, "labelFlush": false, "labelBound": false,
            "tickColor": "black", "domainColor": "black"}},
        "y2": {"field": "c"},
        "color": {"condition": [
          {"test": "datum.c > datum.o", "value": "#0000cc"},
          {"test": "datum.c < datum.o", "value": "#ff0000"}], "value": "#000000"}
      }
    },
    {
      "data": {"name": "bid"},
      "mark": {"type": "rule", "color": "#6f8293", "strokeWidth": 1},
      "encoding": {
        "y": {"field": "p", "type": "quantitative",
          "scale": {"domain": [0.873881, 0.951158], "nice": false, "zero": false},
          "axis": {"orient": "right", "title": null, "grid": false,
            "values": [0.8756,0.8802,0.8848,0.8894,0.894,0.8986,0.9032,0.9078,0.91245,0.91705,0.92165,0.92625,0.93085,0.93545,0.94005,0.94465,0.94925],
            "format": ".5f", "labelPadding": 4, "tickSize": 4,
            "labelFont": "DejaVu Sans", "labelFontSize": 11, "labelColor": "black",
            "labelOverlap": false, "labelFlush": false, "labelBound": false,
            "tickColor": "black", "domainColor": "black"}},
        "x2": {"field": "i2"},
        "y2": {"field": "p2"}
      }
    },
    {
      "data": {"name": "trend"},
      "mark": {"type": "rule", "color": "#0000ff", "strokeWidth": 1},
      "encoding": {
        "y": {"field": "p", "type": "quantitative",
          "scale": {"domain": [0.873881, 0.951158], "nice": false, "zero": false},
          "axis": {"orient": "right", "title": null, "grid": false,
            "values": [0.8756,0.8802,0.8848,0.8894,0.894,0.8986,0.9032,0.9078,0.91245,0.91705,0.92165,0.92625,0.93085,0.93545,0.94005,0.94465,0.94925],
            "format": ".5f", "labelPadding": 4, "tickSize": 4,
            "labelFont": "DejaVu Sans", "labelFontSize": 11, "labelColor": "black",
            "labelOverlap": false, "labelFlush": false, "labelBound": false,
            "tickColor": "black", "domainColor": "black"}},
        "x2": {"field": "i2"},
        "y2": {"field": "p2"}
      }
    },
    {
      "data": {"name": "pointers"},
      "mark": {"type": "rule", "color": "#808080", "strokeWidth": 3},
      "encoding": {
        "y": {"field": "p", "type": "quantitative",
          "scale": {"domain": [0.873881, 0.951158], "nice": false, "zero": false},
          "axis": {"orient": "right", "title": null, "grid": false,
            "values": [0.8756,0.8802,0.8848,0.8894,0.894,0.8986,0.9032,0.9078,0.91245,0.91705,0.92165,0.92625,0.93085,0.93545,0.94005,0.94465,0.94925],
            "format": ".5f", "labelPadding": 4, "tickSize": 4,
            "labelFont": "DejaVu Sans", "labelFontSize": 11, "labelColor": "black",
            "labelOverlap": false, "labelFlush": false, "labelBound": false,
            "tickColor": "black", "domainColor": "black"}},
        "x2": {"field": "i2"},
        "y2": {"field": "p2"}
      }
    },
    {
      "data": {"name": "pricebox"},
      "mark": {"type": "rect", "color": "#000000"},
      "encoding": {
        "y": {"field": "p", "type": "quantitative",
          "scale": {"domain": [0.873881, 0.951158], "nice": false, "zero": false},
          "axis": {"orient": "right", "title": null, "grid": false,
            "values": [0.8756,0.8802,0.8848,0.8894,0.894,0.8986,0.9032,0.9078,0.91245,0.91705,0.92165,0.92625,0.93085,0.93545,0.94005,0.94465,0.94925],
            "format": ".5f", "labelPadding": 4, "tickSize": 4,
            "labelFont": "DejaVu Sans", "labelFontSize": 11, "labelColor": "black",
            "labelOverlap": false, "labelFlush": false, "labelBound": false,
            "tickColor": "black", "domainColor": "black"}},
        "x2": {"field": "i2"},
        "y2": {"field": "p2"}
      }
    },
    {
      "data": {"name": "pricetext"},
      "mark": {"type": "text", "font": "DejaVu Sans", "fontSize": 11, "color": "#ffffff", "align": "left", "baseline": "middle"},
      "encoding": {
        "y": {"field": "p", "type": "quantitative",
          "scale": {"domain": [0.873881, 0.951158], "nice": false, "zero": false},
          "axis": {"orient": "right", "title": null, "grid": false,
            "values": [0.8756,0.8802,0.8848,0.8894,0.894,0.8986,0.9032,0.9078,0.91245,0.91705,0.92165,0.92625,0.93085,0.93545,0.94005,0.94465,0.94925],
            "format": ".5f", "labelPadding": 4, "tickSize": 4,
            "labelFont": "DejaVu Sans", "labelFontSize": 11, "labelColor": "black",
            "labelOverlap": false, "labelFlush": false, "labelBound": false,
            "tickColor": "black", "domainColor": "black"}},
        "text": {"field": "t"}
      }
    },
    {
      "data": {"name": "header"},
      "mark": {"type": "text", "font": "DejaVu Sans", "fontSize": 11.5, "color": "#000000", "align": "left", "baseline": "middle"},
      "encoding": {
        "y": {"field": "p", "type": "quantitative",
          "scale": {"domain": [0.873881, 0.951158], "nice": false, "zero": false},
          "axis": {"orient": "right", "title": null, "grid": false,
            "values": [0.8756,0.8802,0.8848,0.8894,0.894,0.8986,0.9032,0.9078,0.91245,0.91705,0.92165,0.92625,0.93085,0.93545,0.94005,0.94465,0.94925],
            "format": ".5f", "labelPadding": 4, "tickSize": 4,
            "labelFont": "DejaVu Sans", "labelFontSize": 11, "labelColor": "black",
            "labelOverlap": false, "labelFlush": false, "labelBound": false,
            "tickColor": "black", "domainColor": "black"}},
        "text": {"field": "t"}
      }
    },
    {
      "data": {"name": "headmark"},
      "mark": {"type": "text", "font": "DejaVu Sans", "fontSize": 8, "color": "#000000", "align": "left", "baseline": "middle"},
      "encoding": {
        "y": {"field": "p", "type": "quantitative",
          "scale": {"domain": [0.873881, 0.951158], "nice": false, "zero": false},
          "axis": {"orient": "right", "title": null, "grid": false,
            "values": [0.8756,0.8802,0.8848,0.8894,0.894,0.8986,0.9032,0.9078,0.91245,0.91705,0.92165,0.92625,0.93085,0.93545,0.94005,0.94465,0.94925],
            "format": ".5f", "labelPadding": 4, "tickSize": 4,
            "labelFont": "DejaVu Sans", "labelFontSize": 11, "labelColor": "black",
            "labelOverlap": false, "labelFlush": false, "labelBound": false,
            "tickColor": "black", "domainColor": "black"}},
        "text": {"field": "t"}
      }
    },
    {
      "data": {"name": "title"},
      "mark": {"type": "text", "font": "Lato", "fontWeight": "bold", "fontSize": 43, "color": "#808080", "align": "left", "baseline": "alphabetic"},
      "encoding": {
        "y": {"field": "p", "type": "quantitative",
          "scale": {"domain": [0.873881, 0.951158], "nice": false, "zero": false},
          "axis": {"orient": "right", "title": null, "grid": false,
            "values": [0.8756,0.8802,0.8848,0.8894,0.894,0.8986,0.9032,0.9078,0.91245,0.91705,0.92165,0.92625,0.93085,0.93545,0.94005,0.94465,0.94925],
            "format": ".5f", "labelPadding": 4, "tickSize": 4,
            "labelFont": "DejaVu Sans", "labelFontSize": 11, "labelColor": "black",
            "labelOverlap": false, "labelFlush": false, "labelBound": false,
            "tickColor": "black", "domainColor": "black"}},
        "text": {"field": "t"}
      }
    },
    {
      "data": {"name": "site"},
      "mark": {"type": "text", "font": "Lato", "fontWeight": "bold", "fontSize": 38, "color": "#808080", "align": "left", "baseline": "alphabetic"},
      "encoding": {
        "y": {"field": "p", "type": "quantitative",
          "scale": {"domain": [0.873881, 0.951158], "nice": false, "zero": false},
          "axis": {"orient": "right", "title": null, "grid": false,
            "values": [0.8756,0.8802,0.8848,0.8894,0.894,0.8986,0.9032,0.9078,0.91245,0.91705,0.92165,0.92625,0.93085,0.93545,0.94005,0.94465,0.94925],
            "format": ".5f", "labelPadding": 4, "tickSize": 4,
            "labelFont": "DejaVu Sans", "labelFontSize": 11, "labelColor": "black",
            "labelOverlap": false, "labelFlush": false, "labelBound": false,
            "tickColor": "black", "domainColor": "black"}},
        "text": {"field": "t"}
      }
    },
    {
      "data": {"name": "pattern"},
      "mark": {"type": "text", "font": "Lato", "fontWeight": "bold", "fontSize": 41, "color": "#064406", "align": "left", "baseline": "alphabetic"},
      "encoding": {
        "y": {"field": "p", "type": "quantitative",
          "scale": {"domain": [0.873881, 0.951158], "nice": false, "zero": false},
          "axis": {"orient": "right", "title": null, "grid": false,
            "values": [0.8756,0.8802,0.8848,0.8894,0.894,0.8986,0.9032,0.9078,0.91245,0.91705,0.92165,0.92625,0.93085,0.93545,0.94005,0.94465,0.94925],
            "format": ".5f", "labelPadding": 4, "tickSize": 4,
            "labelFont": "DejaVu Sans", "labelFontSize": 11, "labelColor": "black",
            "labelOverlap": false, "labelFlush": false, "labelBound": false,
            "tickColor": "black", "domainColor": "black"}},
        "text": {"field": "t"}
      }
    },
    {
      "data": {"name": "notes"},
      "mark": {"type": "text", "font": "Lato", "fontWeight": "bold", "fontSize": 42, "color": "#000000", "align": "left", "baseline": "alphabetic"},
      "encoding": {
        "y": {"field": "p", "type": "quantitative",
          "scale": {"domain": [0.873881, 0.951158], "nice": false, "zero": false},
          "axis": {"orient": "right", "title": null, "grid": false,
            "values": [0.8756,0.8802,0.8848,0.8894,0.894,0.8986,0.9032,0.9078,0.91245,0.91705,0.92165,0.92625,0.93085,0.93545,0.94005,0.94465,0.94925],
            "format": ".5f", "labelPadding": 4, "tickSize": 4,
            "labelFont": "DejaVu Sans", "labelFontSize": 11, "labelColor": "black",
            "labelOverlap": false, "labelFlush": false, "labelBound": false,
            "tickColor": "black", "domainColor": "black"}},
        "text": {"field": "t"}
      }
    }
  ]
}
